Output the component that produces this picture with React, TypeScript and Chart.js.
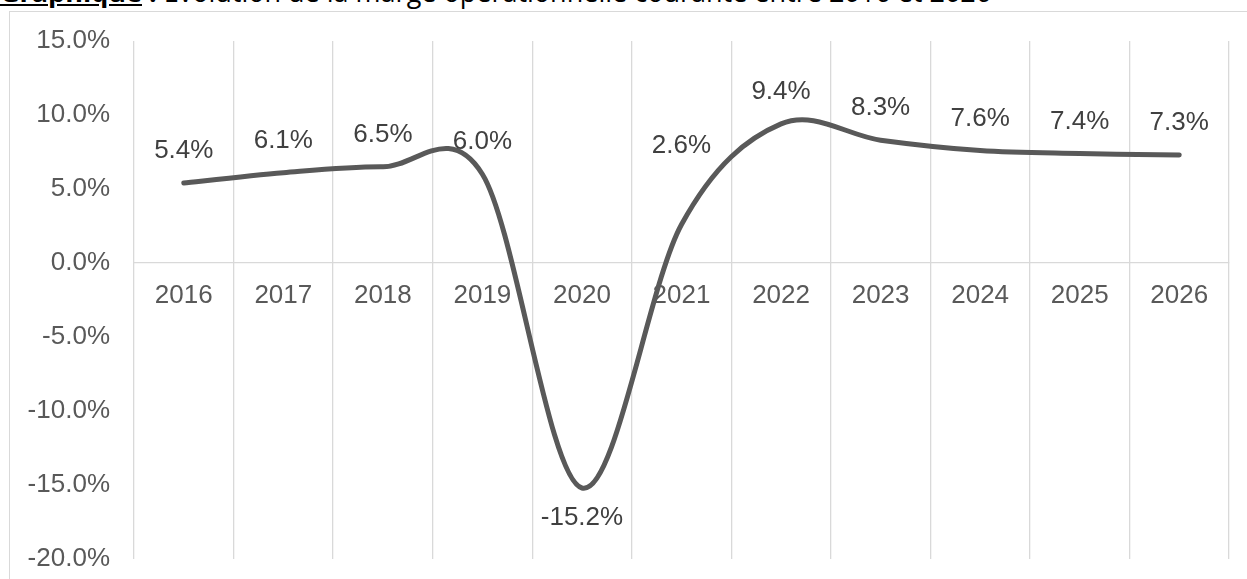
import React, { useEffect, useRef } from "react";
import { Chart, registerables } from "chart.js";

Chart.register(...registerables);

const years = ["2016", "2017", "2018", "2019", "2020", "2021", "2022", "2023", "2024", "2025", "2026"];
const margins = [5.4, 6.1, 6.5, 6.0, -15.2, 2.6, 9.4, 8.3, 7.6, 7.4, 7.3];
const yMin = -20;
const yMax = 15;
const yStep = 5;
const titleLead = "Graphique";
const titleRest = "Évolution de la marge opérationnelle courante entre 2016 et 2026";

const FONT = "'Liberation Sans', Arial, sans-serif";

// Excel-like smoothing (uniform Catmull-Rom) applied to the library's own point elements
const excelSmooth = {
  id: "excelSmooth",
  beforeDatasetDraw(chart: any, args: any) {
    const meta = args.meta;
    const line = meta.dataset;
    if (!line) return;
    if (line.updateControlPoints) line.updateControlPoints(chart.chartArea, "x");
    const pts = meta.data;
    const n = pts.length;
    for (let i = 0; i < n; i++) {
      const p = pts[i];
      const prev = pts[Math.max(0, i - 1)];
      const next = pts[Math.min(n - 1, i + 1)];
      const dx = (next.x - prev.x) / 6;
      const dy = (next.y - prev.y) / 6;
      p.cp1x = p.x - dx;
      p.cp1y = p.y - dy;
      p.cp2x = p.x + dx;
      p.cp2y = p.y + dy;
    }
    line._path = undefined;
  },
};

const pointLabels = {
  id: "pointLabels",
  afterDatasetsDraw(chart: any, _args: any, opts: any) {
    const ctx = chart.ctx;
    const meta = chart.getDatasetMeta(0);
    const data = chart.data.datasets[0].data as number[];
    ctx.save();
    ctx.font = opts.font;
    ctx.fillStyle = opts.color;
    ctx.textAlign = "center";
    ctx.textBaseline = "middle";
    meta.data.forEach((pt: any, i: number) => {
      const off = opts.overrides && opts.overrides[i] !== undefined ? opts.overrides[i] : opts.offset;
      ctx.fillText(data[i].toFixed(1) + "%", pt.x, pt.y + off);
    });
    ctx.restore();
  },
};

export default function App() {
  const canvasRef = useRef<HTMLCanvasElement | null>(null);

  useEffect(() => {
    const prevMargin = document.body.style.margin;
    document.body.style.margin = "0";
    const canvas = canvasRef.current;
    if (!canvas) return;
    const chart = new Chart(canvas, {
      type: "line",
      data: {
        labels: years,
        datasets: [
          {
            data: margins,
            borderColor: "#595959",
            borderWidth: 5,
            borderCapStyle: "round",
            borderJoinStyle: "round",
            tension: 0.4,
            pointRadius: 0,
            pointHoverRadius: 0,
            fill: false,
          } as any,
        ],
      },
      plugins: [excelSmooth, pointLabels],
      options: {
        animation: false,
        responsive: false,
        events: [],
        layout: { padding: { left: 0, right: 18, top: 41, bottom: 20 } },
        elements: { line: { capBezierPoints: false } as any },
        plugins: {
          legend: { display: false },
          tooltip: { enabled: false },
          title: { display: false },
          pointLabels: {
            font: `26px ${FONT}`,
            color: "#404040",
            offset: -32,
            overrides: { 4: 30, 5: -79 },
          },
        } as any,
        scales: {
          x: {
            type: "category",
            position: { y: 0 } as any,
            offset: true,
            grid: {
              display: true,
              offset: true,
              color: "#d9d9d9",
              lineWidth: 1.3,
              drawTicks: false,
            },
            border: { display: true, color: "#d9d9d9", width: 1.3 },
            ticks: {
              color: "#595959",
              font: { family: FONT, size: 26 },
              padding: 17,
              maxRotation: 0,
              autoSkip: false,
            },
          },
          y: {
            min: yMin,
            max: yMax,
            grid: { display: false },
            border: { display: false },
            afterFit: (s: any) => {
              s.width = 134;
              s.paddingTop = 0;
              s.paddingBottom = 0;
            },
            ticks: {
              stepSize: yStep,
              color: "#595959",
              font: { family: FONT, size: 26 },
              padding: 16,
              callback: (v: any) => Number(v).toFixed(1) + "%",
            },
          },
        },
      },
    });
    return () => {
      chart.destroy();
      document.body.style.margin = prevMargin;
    };
  }, []);

  return (
    <div
      style={{
        position: "fixed",
        left: 0,
        top: 0,
        width: 1247,
        height: 579,
        overflow: "hidden",
        background: "#ffffff",
      }}
    >
      <div
        style={{
          position: "absolute",
          left: 0,
          top: -22,
          whiteSpace: "nowrap",
          fontFamily: "'Open Sans', 'Noto Sans', sans-serif",
          fontSize: 27,
          lineHeight: "27px",
          color: "#000000",
        }}
      >
        <span style={{ fontWeight: 700, textDecoration: "underline" }}>{titleLead}</span>
        <span style={{ fontWeight: 700 }}>{" :"}</span>
        <span>{" " + titleRest}</span>
      </div>
      <div
        style={{
          position: "absolute",
          left: 9,
          top: 11,
          width: 1400,
          height: 700,
          borderLeft: "1px solid #d9d9d9",
          borderTop: "1px solid #d9d9d9",
          boxSizing: "border-box",
        }}
      />
      <canvas
        ref={canvasRef}
        width={1247}
        height={579}
        style={{ position: "absolute", left: 0, top: 0, width: 1247, height: 579 }}
      />
    </div>
  );
}
